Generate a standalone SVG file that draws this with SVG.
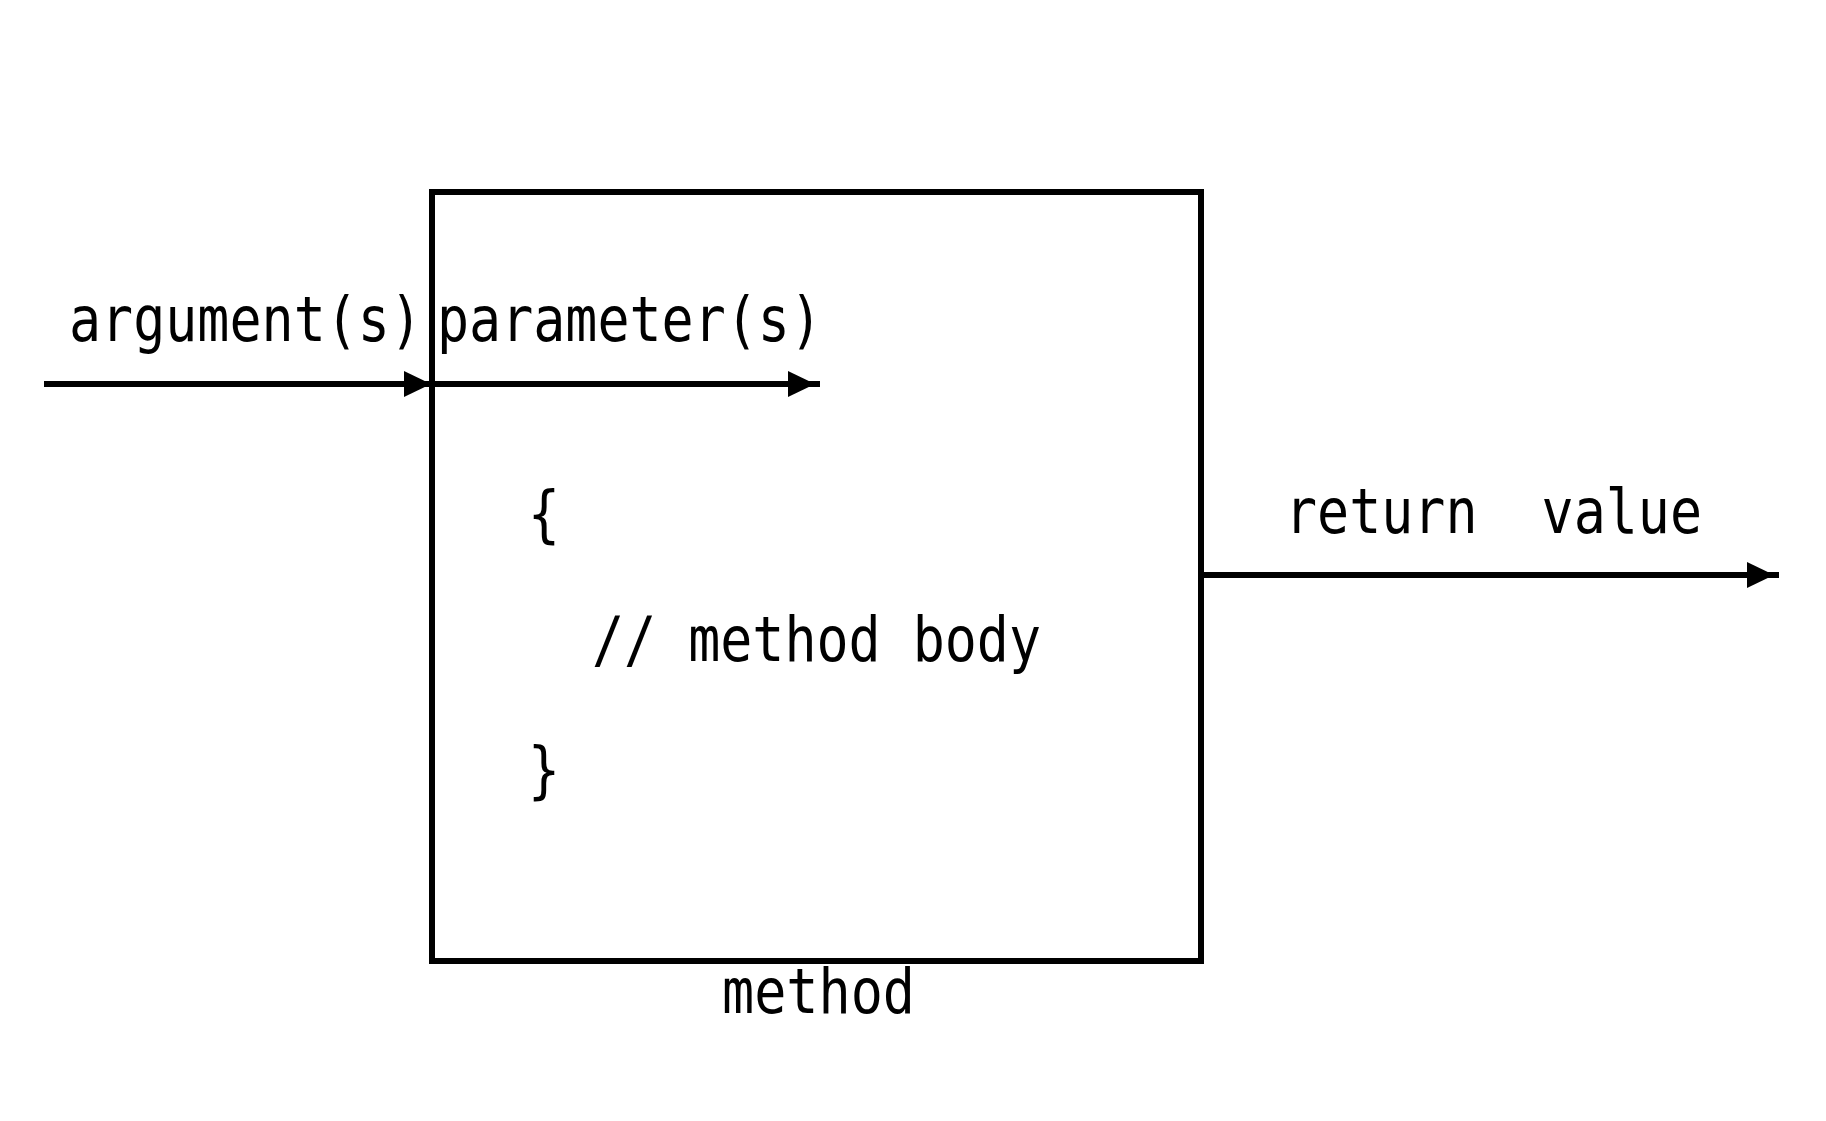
<svg xmlns="http://www.w3.org/2000/svg" width="1826" height="1121" viewBox="0 0 1826 1121">
<style>
text { font-family: "DejaVu Sans Mono", "Liberation Mono", monospace; font-size: 62px; fill: #000; }
.ln { stroke: #000; stroke-width: 6; fill: none; }
</style>
<defs>
<marker id="ah" markerUnits="userSpaceOnUse" markerWidth="34" markerHeight="28" refX="32" refY="13" orient="auto">
<path d="M0,0 L27,13 L0,26 z" fill="#000"/>
</marker>
</defs>
<rect width="1826" height="1121" fill="#fff"/>
<g id="method">
<rect class="ln" x="432" y="192" width="769" height="769"/>
<text x="722" y="1013" textLength="193" lengthAdjust="spacingAndGlyphs">method</text>
<text x="528" y="535" textLength="32" lengthAdjust="spacingAndGlyphs">{</text>
<text x="592" y="661" textLength="449" lengthAdjust="spacingAndGlyphs" xml:space="preserve">// method body</text>
<text x="528" y="791" textLength="32" lengthAdjust="spacingAndGlyphs">}</text>
</g>
<g id="labels">
<text x="69" y="341" textLength="353" lengthAdjust="spacingAndGlyphs">argument(s)</text>
<text x="437" y="341" textLength="385" lengthAdjust="spacingAndGlyphs">parameter(s)</text>
<text x="1285" y="533" textLength="417" lengthAdjust="spacingAndGlyphs" xml:space="preserve">return  value</text>
</g>
<g id="connectors">
<line class="ln" x1="44" y1="384" x2="436" y2="384" marker-end="url(#ah)"/>
<line class="ln" x1="432" y1="384" x2="820" y2="384" marker-end="url(#ah)"/>
<line class="ln" x1="1201" y1="575" x2="1779" y2="575" marker-end="url(#ah)"/>
</g>
</svg>
